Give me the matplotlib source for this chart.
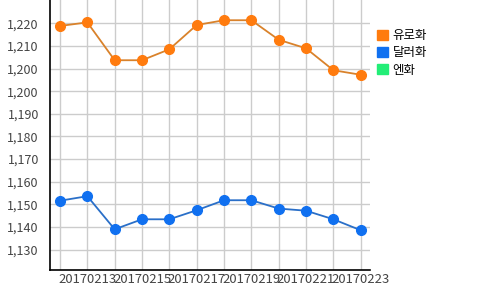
import matplotlib
matplotlib.use("Agg")
import matplotlib.pyplot as plt
from matplotlib.ticker import FuncFormatter, FixedLocator
from matplotlib.patches import Patch

dates = ["20170212", "20170213", "20170214", "20170215", "20170216", "20170217",
         "20170218", "20170219", "20170220", "20170221", "20170222", "20170223"]
euro = [1222.4, 1223.9, 1208.0, 1208.0, 1212.6, 1222.8,
        1224.8, 1224.8, 1216.6, 1213.0, 1203.8, 1201.9]
dollar = [1149.0, 1150.9, 1137.0, 1141.2, 1141.2, 1145.0,
          1149.2, 1149.2, 1145.7, 1144.8, 1141.2, 1136.6]
yen = []
series_names = ["유로화", "달러화", "엔화"]
y_ticks = [1128.5 + 9.5 * k for k in range(11)]

plt.rcParams['font.family'] = ['Noto Sans CJK KR', 'DejaVu Sans']

fig = plt.figure(figsize=(5, 2.9), dpi=100)
ax = fig.add_axes([0.1, 20 / 290, 0.64, 270 / 290])

x = list(range(len(dates)))
ax.plot(x, euro, color="#D9822B", lw=1.3, marker="o", ms=7,
        markerfacecolor="#FF7B0E", markeredgecolor="#FF7B0E", zorder=3)
ax.plot(x, dollar, color="#2A6FC8", lw=1.3, marker="o", ms=7,
        markerfacecolor="#1070F0", markeredgecolor="#1070F0", zorder=3)

ax.set_xlim(-0.366, 11.34)
ax.set_ylim(1119.9, 1233.3)
ax.yaxis.set_major_locator(FixedLocator(y_ticks))
ax.yaxis.set_major_formatter(FuncFormatter(lambda v, p: f"{int(round(v / 10.0) * 10):,}"))
ax.set_xticks(x)
ax.set_xticklabels([d if i % 2 == 1 else "" for i, d in enumerate(dates)])

ax.grid(True, color="#cccccc", lw=1)
ax.set_axisbelow(True)
for s in ["top", "right"]:
    ax.spines[s].set_visible(False)
for s in ["left", "bottom"]:
    ax.spines[s].set_color("black")
    ax.spines[s].set_linewidth(1.2)
ax.tick_params(axis="both", length=0, labelsize=9, colors="#444444")
ax.tick_params(axis="x", labelsize=9.4)
ax.tick_params(axis="y", pad=8)
ax.tick_params(axis="x", pad=2)

handles = [Patch(color="#FF7B0E"), Patch(color="#1070F0"), Patch(color="#22EE77")]
fig.legend(handles, series_names, loc="upper left", bbox_to_anchor=(372 / 500, 1 - 24 / 290),
           frameon=False, fontsize=9, handlelength=0.85, handleheight=0.85,
           handletextpad=0.4, labelspacing=0.35, borderaxespad=0)

fig.savefig("out.png", dpi=100)
